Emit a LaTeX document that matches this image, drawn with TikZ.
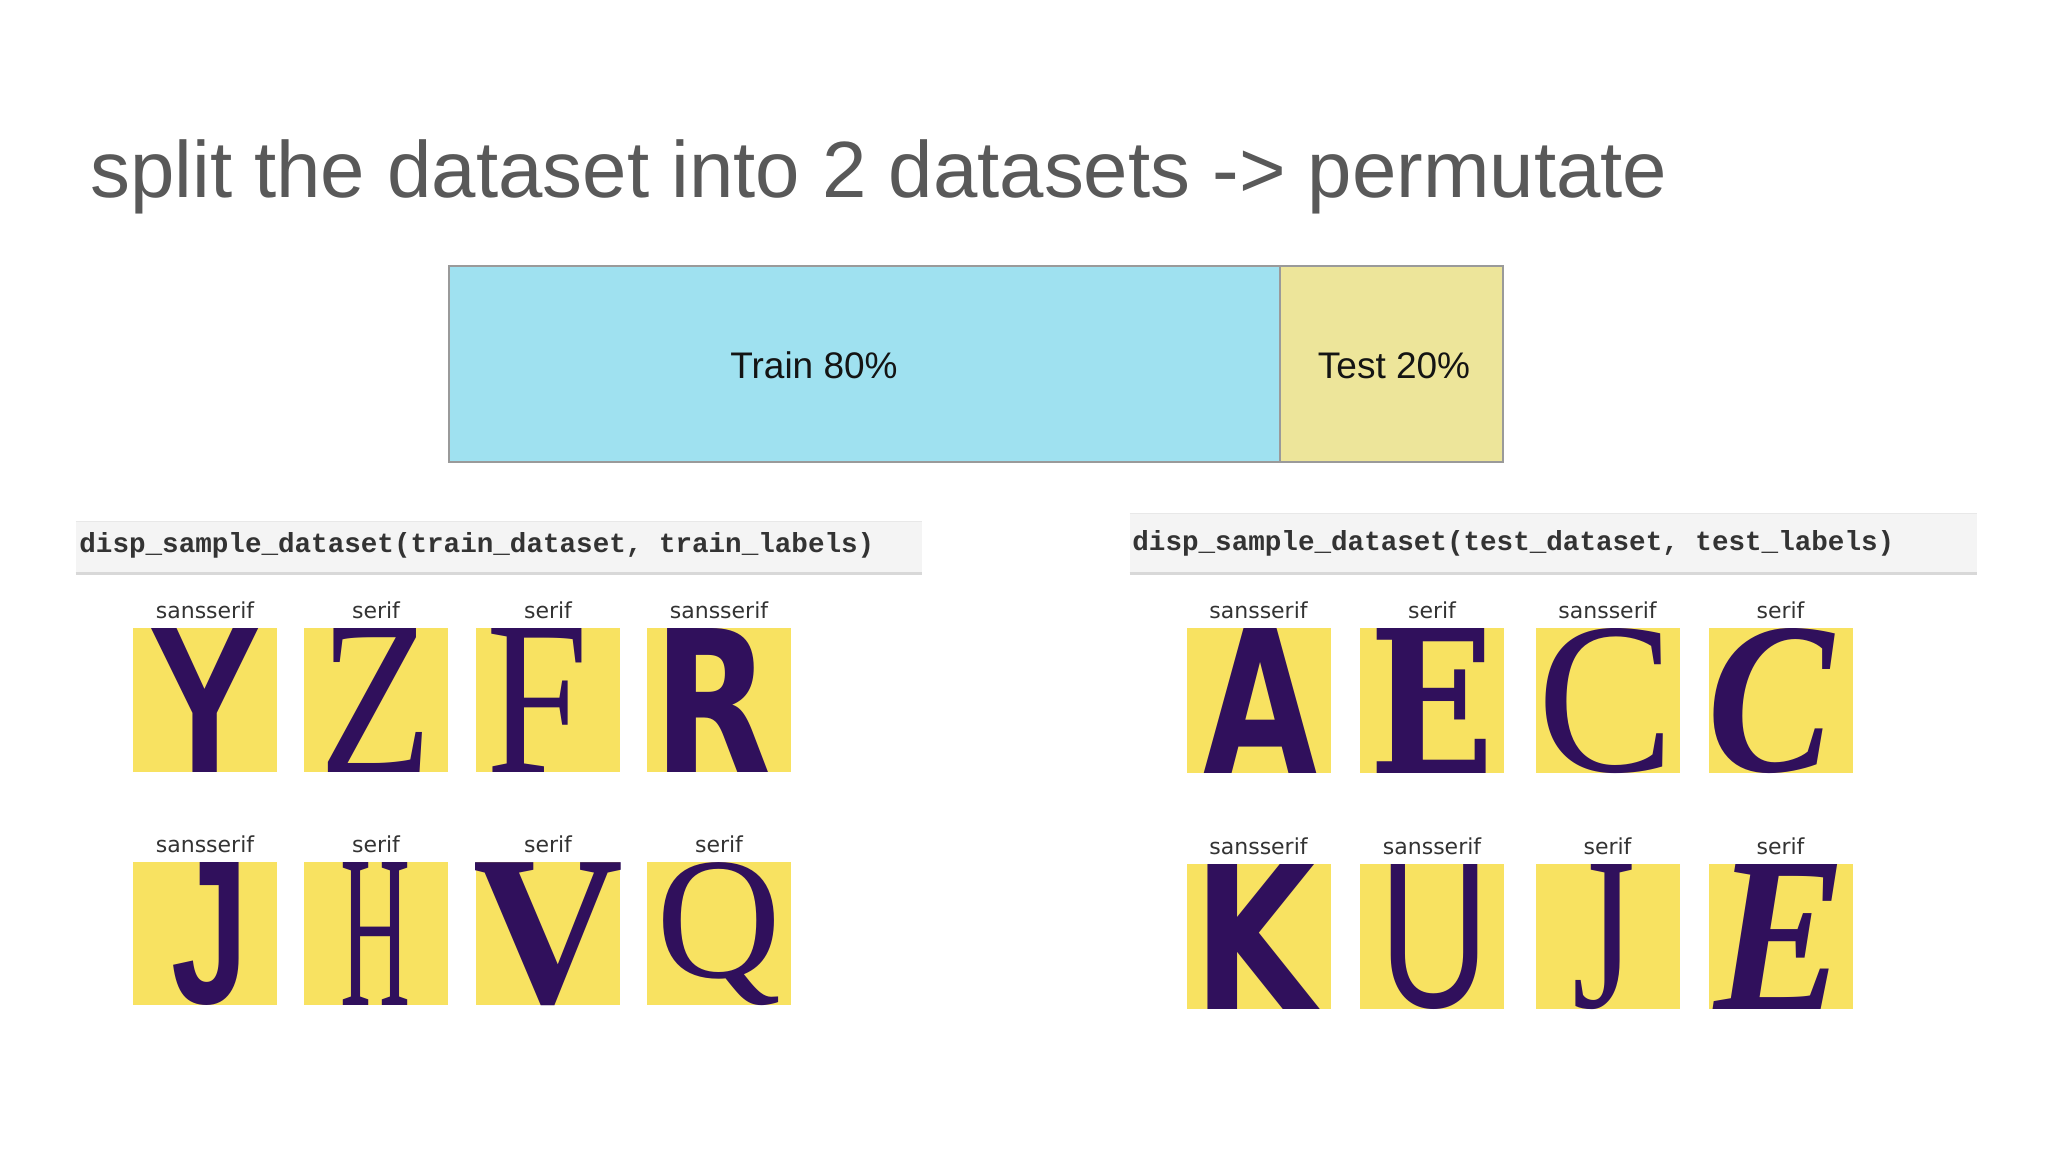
\documentclass[tikz,border=0pt]{standalone}
\usepackage{fontspec}
\setmainfont{Liberation Sans}
\newfontfamily\lsans{Liberation Sans}
\newfontfamily\lserif{Liberation Serif}
\newfontfamily\djsans{DejaVu Sans}
\newfontfamily\djserif{DejaVu Serif}
\newfontfamily\lmono{Liberation Mono}
\definecolor{titlegray}{HTML}{595959}
\definecolor{traincol}{HTML}{9FE1F0}
\definecolor{testcol}{HTML}{EDE59A}
\definecolor{bargray}{HTML}{9A9A9A}
\definecolor{tilecol}{HTML}{F8E261}
\definecolor{lettercol}{HTML}{30105C}
\definecolor{labcol}{HTML}{333333}
\definecolor{codebg}{HTML}{F4F4F4}
\definecolor{codeline}{HTML}{D8D8D8}
\definecolor{codetop}{HTML}{E8E8E8}
\definecolor{codecol}{HTML}{333333}
\tikzset{
  tile/.style={rectangle, fill=tilecol, draw=none, minimum width=72pt, inner sep=0pt},
  lab/.style={font=\djsans\fontsize{11}{13}\selectfont, text=labcol, inner sep=0pt},
  glyph/.style={inner sep=0pt, text=lettercol},
  codetxt/.style={font=\lmono\bfseries\fontsize{13.8}{16}\selectfont, text=codecol, inner sep=0pt, anchor=base west},
  codebox/.style={rectangle, fill=codebg, draw=none, inner sep=0pt},
  barpart/.style={rectangle, draw=bargray, line width=1pt, inner sep=0pt},
  bartxt/.style={font=\lsans\fontsize{18.5}{22}\selectfont, text=black!92, inner sep=0pt, anchor=base},
}
% #1 name, #2 cx, #3 top, #4 height pt, #5 label, #6 glyph, #7 width pt, #8 xshift pt
\newcommand{\lettertile}[8]{%
  \node[tile, minimum height=#4, anchor=north] (#1) at (#2,#3) {};
  \node[lab, anchor=base] (#1l) at ([yshift=5pt]#1.north) {#5};
  \begin{scope}
    \clip (#1.south west) rectangle (#1.north east);
    \node[glyph] (#1g) at ([xshift=#8]#1.center) {\resizebox*{#7}{#4}{#6}};
  \end{scope}
}
\begin{document}
\begin{tikzpicture}[x=0.5pt, y=-0.5pt]
\useasboundingbox[fill=white] (0,0) rectangle (2048,1152);

% title
\node[font=\lsans\fontsize{39.9}{46}\selectfont, text=titlegray, inner sep=0pt, anchor=base west] (title) at (90,197) {split the dataset into 2 datasets -> permutate};

% split bar
\node[barpart, fill=traincol, minimum width=415.5pt, minimum height=98pt] (train) at (864.5,364) {};
\node[barpart, fill=testcol, minimum width=111.5pt, minimum height=98pt] (test) at (1391.5,364) {};
\node[bartxt] (traintxt) at (814,378) {Train 80\%};
\node[bartxt] (testtxt) at (1394,378) {Test 20\%};

% code boxes
\node[codebox, minimum width=423pt, minimum height=25.5pt] (codeL) at (499,547.5) {};
\draw[codetop, line width=0.6pt] (codeL.north west) -- (codeL.north east);
\draw[codeline, line width=1.5pt] (codeL.south west) -- (codeL.south east);
\node[codetxt] (codeLt) at (79,552) {disp\_sample\_dataset(train\_dataset, train\_labels)};

\node[codebox, minimum width=423.5pt, minimum height=29.5pt] (codeR) at (1553.5,543.5) {};
\draw[codetop, line width=0.6pt] (codeR.north west) -- (codeR.north east);
\draw[codeline, line width=1.5pt] (codeR.south west) -- (codeR.south east);
\node[codetxt] (codeRt) at (1132,550) {disp\_sample\_dataset(test\_dataset, test\_labels)};

% left group, row 1
\lettertile{l1}{205}{628}{72pt}{sansserif}{\lsans\bfseries Y}{56.5pt}{0pt}
\lettertile{l2}{376}{628}{72pt}{serif}{\lserif Z}{56.5pt}{0pt}
\lettertile{l3}{548}{628}{72pt}{serif}{\lserif F}{51pt}{-5pt}
\lettertile{l4}{719}{628}{72pt}{sansserif}{\djsans\bfseries R}{59pt}{-3.5pt}
% left group, row 2
\lettertile{l5}{205}{862}{71.5pt}{sansserif}{\lsans\bfseries J}{38.5pt}{2.5pt}
\lettertile{l6}{376}{862}{71.5pt}{serif}{\lserif H}{35pt}{0pt}
\lettertile{l7}{548}{862}{71.5pt}{serif}{\lserif\bfseries V}{76pt}{0pt}
\lettertile{l8}{719}{862}{71.5pt}{serif}{\lserif Q}{62.5pt}{0pt}

% right group, row 1
\lettertile{r1}{1258.5}{628}{72.5pt}{sansserif}{\djsans\bfseries A}{57pt}{1pt}
\lettertile{r2}{1432}{628}{72.5pt}{serif}{\djserif\bfseries E}{62.5pt}{0pt}
\lettertile{r3}{1607.5}{628}{72.5pt}{sansserif}{\lserif C}{68.5pt}{-0.5pt}
\lettertile{r4}{1780.5}{628}{72.5pt}{serif}{\lserif\bfseries\itshape C}{63pt}{-5pt}
% right group, row 2
\lettertile{r5}{1258.5}{864}{72.5pt}{sansserif}{\djsans\bfseries K}{61pt}{-2pt}
\lettertile{r6}{1432}{864}{72.5pt}{sansserif}{\lsans U}{55pt}{1pt}
\lettertile{r7}{1607.5}{864}{72.5pt}{serif}{\lserif J}{31.5pt}{-2pt}
\lettertile{r8}{1780.5}{864}{72.5pt}{serif}{\lserif\bfseries\itshape E}{66pt}{0pt}
\end{tikzpicture}
\end{document}
